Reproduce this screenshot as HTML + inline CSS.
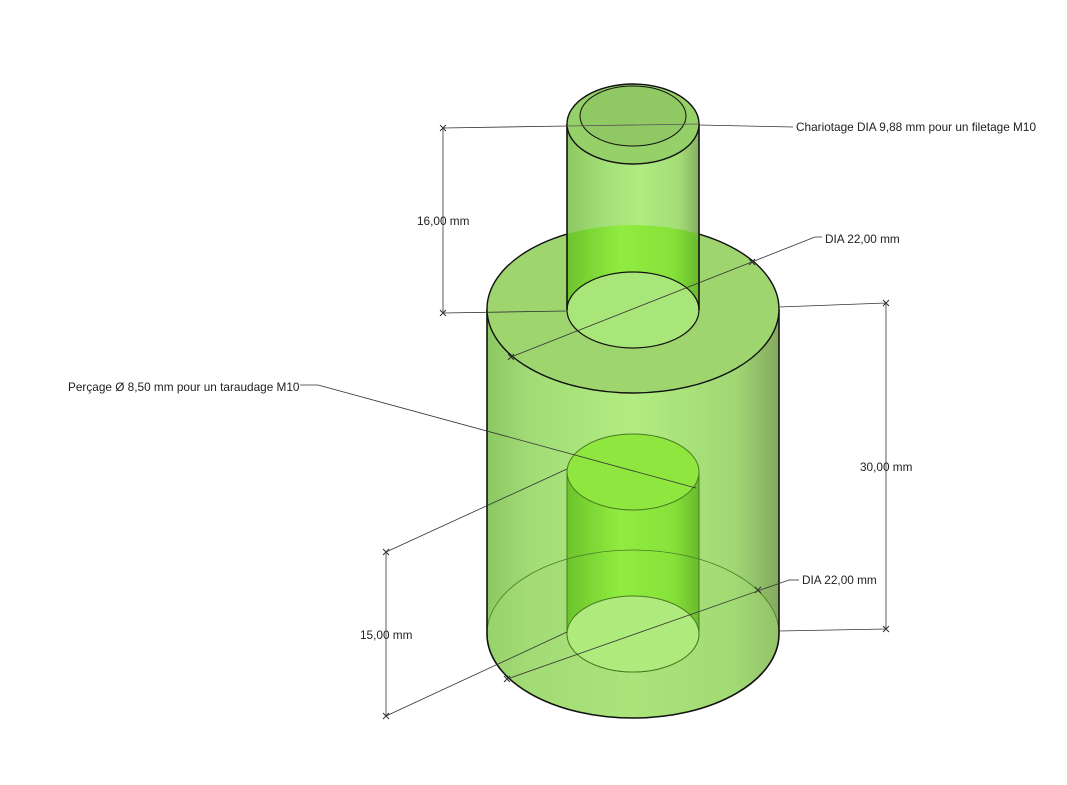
<!DOCTYPE html>
<html><head><meta charset="utf-8"><style>
html,body{margin:0;padding:0;background:#fff;}
svg{display:block;}
text{font-family:"Liberation Sans",sans-serif;font-size:11.8px;fill:#222;}
</style></head><body>
<svg width="1067" height="785" viewBox="0 0 1067 785" xmlns="http://www.w3.org/2000/svg">
<defs>
<linearGradient id="side" x1="0" x2="1" y1="0" y2="0">
<stop offset="0" stop-color="#8cc862"/><stop offset="0.15" stop-color="#a2dc76"/>
<stop offset="0.5" stop-color="#b2ec82"/><stop offset="0.85" stop-color="#a0d874"/>
<stop offset="1" stop-color="#84a85e"/></linearGradient>
<linearGradient id="bore" x1="0" x2="1" y1="0" y2="0">
<stop offset="0" stop-color="#6cc42c"/><stop offset="0.4" stop-color="#90ec40"/>
<stop offset="0.8" stop-color="#86e23a"/><stop offset="1" stop-color="#6aba2c"/></linearGradient>
<linearGradient id="side2" x1="0" x2="1" y1="0" y2="0">
<stop offset="0" stop-color="#8cc862"/><stop offset="0.3" stop-color="#a6e078"/>
<stop offset="0.55" stop-color="#b0ec82"/><stop offset="0.85" stop-color="#a4dc76"/>
<stop offset="1" stop-color="#84b060"/></linearGradient>
<clipPath id="topc"><ellipse cx="633" cy="309" rx="146" ry="84"/></clipPath>
</defs>
<path d="M487 309 L487 634 A146 84 0 0 0 779 634 L779 309 Z" fill="url(#side)"/>
<ellipse cx="633" cy="634" rx="146" ry="84" fill="#a4dc74" opacity="0.5"/>
<path d="M567 472 L567 634 A66 38 0 0 0 699 634 L699 472 Z" fill="url(#bore)" stroke="#4a7a20" stroke-width="1"/>
<ellipse cx="633" cy="472" rx="66" ry="38" fill="#8ee63e" stroke="#4a7a20" stroke-width="1"/>
<ellipse cx="633" cy="634" rx="66" ry="38" fill="#aeea7c" stroke="#4a7a20" stroke-width="1"/>
<path d="M487 634 A146 84 0 0 1 779 634" fill="none" stroke="#4a7a20" stroke-width="0.8"/>
<path d="M487 634 A146 84 0 0 0 779 634" fill="none" stroke="#111" stroke-width="1.6"/>
<line x1="487" y1="309" x2="487" y2="634" stroke="#111" stroke-width="1.6"/>
<line x1="779" y1="309" x2="779" y2="634" stroke="#111" stroke-width="1.6"/>
<ellipse cx="633" cy="309" rx="146" ry="84" fill="#9ed56e" stroke="#111" stroke-width="1.4"/>
<rect x="567" y="124" width="132" height="186" fill="url(#side2)"/>
<rect x="567" y="200" width="132" height="110" fill="url(#bore)" clip-path="url(#topc)"/>
<ellipse cx="633" cy="310" rx="66" ry="38" fill="#a8e67a" stroke="#111" stroke-width="1.2"/>
<line x1="567" y1="124" x2="567" y2="310" stroke="#111" stroke-width="1.6"/>
<line x1="699" y1="124" x2="699" y2="310" stroke="#111" stroke-width="1.6"/>
<ellipse cx="633" cy="124" rx="66" ry="40" fill="#96d068" stroke="#111" stroke-width="1.4"/>
<ellipse cx="633" cy="116" rx="53" ry="30" fill="#90c864" stroke="#111" stroke-width="1"/>
<g stroke="#333" stroke-width="0.8" fill="none">
<line x1="443" y1="128" x2="567" y2="126"/>
<line x1="567" y1="126" x2="699" y2="124" stroke="#555"/>
<line x1="699" y1="125" x2="793" y2="127"/>
<line x1="443" y1="313" x2="566" y2="311"/>
<line x1="443" y1="128" x2="443" y2="313"/>
<line x1="511" y1="357" x2="815" y2="237"/>
<line x1="815" y1="237" x2="822" y2="237"/>
<line x1="779" y1="307" x2="886" y2="303"/>
<line x1="779" y1="631" x2="886" y2="629"/>
<line x1="886" y1="303" x2="886" y2="629"/>
<line x1="507" y1="679" x2="789" y2="580"/>
<line x1="789" y1="580" x2="799" y2="580"/>
<line x1="386" y1="552" x2="567" y2="469"/>
<line x1="386" y1="716" x2="567" y2="632"/>
<line x1="386" y1="552" x2="386" y2="716"/>
<line x1="300" y1="385" x2="318" y2="385"/>
<line x1="318" y1="385" x2="696" y2="488"/>
</g>
<g stroke="#333" stroke-width="1">
<path d="M440 125 l6 6 M440 131 l6 -6 M440 310 l6 6 M440 316 l6 -6 M508 354 l6 6 M508 360 l6 -6 M749 259 l6 6 M749 265 l6 -6 M883 300 l6 6 M883 306 l6 -6 M883 626 l6 6 M883 632 l6 -6 M383 549 l6 6 M383 555 l6 -6 M383 713 l6 6 M383 719 l6 -6 M504 676 l6 6 M504 682 l6 -6 M755 587 l6 6 M755 593 l6 -6"/>
</g>
<text x="796" y="131">Chariotage DIA 9,88 mm pour un filetage M10</text>
<text x="825" y="243">DIA 22,00 mm</text>
<text x="417" y="225">16,00 mm</text>
<text x="68" y="391">Perçage Ø 8,50 mm pour un taraudage M10</text>
<text x="860" y="471">30,00 mm</text>
<text x="802" y="584">DIA 22,00 mm</text>
<text x="360" y="639">15,00 mm</text>
</svg>
</body></html>
